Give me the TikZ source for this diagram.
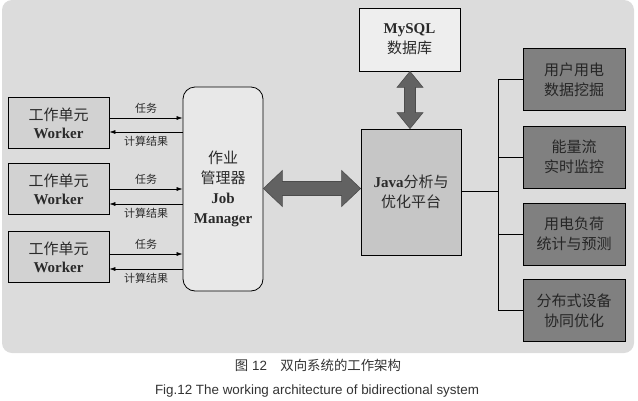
\documentclass[tikz,border=0pt]{standalone}
\usepackage{fontspec}
\setmainfont{Liberation Serif}
\setsansfont{Liberation Sans}
\newfontfamily\cjk{Noto Sans CJK SC}
\usetikzlibrary{arrows.meta,calc}
\definecolor{bgc}{HTML}{DCDCDC}
\definecolor{wkc}{HTML}{D2D2D2}
\definecolor{jmc}{HTML}{E8E8E8}
\definecolor{dbc}{HTML}{EEEEEE}
\definecolor{jvc}{HTML}{C6C6C6}
\definecolor{rtc}{HTML}{808080}
\definecolor{arc}{HTML}{626262}
\definecolor{txc}{HTML}{2A2A2A}
\tikzset{
  box/.style={draw=black, line width=0.8pt, inner sep=0pt, align=center, text=txc, font=\fontsize{15}{20}\selectfont},
  workerbox/.style={box, fill=wkc, minimum width=101pt, minimum height=51pt, font=\fontsize{15}{18}\selectfont},
  rightbox/.style={box, fill=rtc, minimum width=102pt, minimum height=62pt, text=black!85},
  small/.style={font=\cjk\fontsize{11}{13}\selectfont, text=txc},
  thin arrow/.style={-{Latex[length=6pt,width=4pt]}, line width=0.6pt},
  bigarrow/.style={fill=arc, draw=black!70, line width=0.6pt},
  caption/.style={font=\sffamily\fontsize{13.4}{15}\selectfont, text=black!80, inner sep=0pt},
}
\begin{document}
\begin{tikzpicture}[x=1pt,y=-1pt]
\useasboundingbox (0,0) rectangle (638,400);
% background
\fill[bgc, rounded corners=10pt] (2,0) rectangle (634,353);
% workers
\node[workerbox] (w1) at (58.5,123) {{\cjk 工作单元}\\\textbf{Worker}};
\node[workerbox] (w2) at (58.5,189) {{\cjk 工作单元}\\\textbf{Worker}};
\node[workerbox] (w3) at (58.5,257) {{\cjk 工作单元}\\\textbf{Worker}};
% job manager
\node[box, fill=jmc, rounded corners=12pt, minimum width=80pt, minimum height=204pt] (jm) at (223,189) {{\cjk 作业}\\{\cjk 管理器}\\\textbf{Job}\\\textbf{Manager}};
% mysql
\node[box, fill=dbc, minimum width=101pt, minimum height=63pt] (db) at (409.5,39.5) {\textbf{MySQL}\\{\cjk 数据库}};
% java
\node[box, fill=jvc, minimum width=100pt, minimum height=126pt] (jv) at (411,192) {\textbf{Java}{\cjk 分析与}\\{\cjk 优化平台}};
% right boxes
\node[rightbox] (r1) at (574,79.5) {{\cjk 用户用电}\\{\cjk 数据挖掘}};
\node[rightbox] (r2) at (574,157) {{\cjk 能量流}\\{\cjk 实时监控}};
\node[rightbox] (r3) at (574,234) {{\cjk 用电负荷}\\{\cjk 统计与预测}};
\node[rightbox] (r4) at (574,310.5) {{\cjk 分布式设备}\\{\cjk 协同优化}};
% worker arrows
\foreach \w/\ya/\yb in {w1/118/132, w2/189/204, w3/254/269}{
  \draw[thin arrow] (\w.east |- 0,\ya) -- (jm.west |- 0,\ya) node[pos=0.5, above=1pt, small] {任务};
  \draw[thin arrow] (jm.west |- 0,\yb) -- (\w.east |- 0,\yb) node[pos=0.5, below=1pt, small] {计算结果};
}
% big horizontal double arrow
\path let \p1=(jm.east), \p2=(jv.west) in
  coordinate (ha) at (\x1, 188.5) coordinate (hb) at (\x2, 188.5);
\draw[bigarrow] (ha) -- ($(ha)+(19,-18)$) -- ($(ha)+(19,-7)$) -- ($(hb)+(-19,-7)$) -- ($(hb)+(-19,-18)$) -- (hb)
  -- ($(hb)+(-19,18)$) -- ($(hb)+(-19,7)$) -- ($(ha)+(19,7)$) -- ($(ha)+(19,18)$) -- cycle;
% vertical double arrow
\path let \p1=(db.south), \p2=(jv.north) in
  coordinate (va) at (410, \y1) coordinate (vb) at (410, \y2);
\draw[bigarrow] (va) -- ($(va)+(13,16)$) -- ($(va)+(5.5,16)$) -- ($(vb)+(5.5,-16)$) -- ($(vb)+(13,-16)$) -- (vb)
  -- ($(vb)+(-13,-16)$) -- ($(vb)+(-5.5,-16)$) -- ($(va)+(-5.5,16)$) -- ($(va)+(-13,16)$) -- cycle;
% tree connector
\coordinate (tj) at (498,191);
\draw[line width=0.8pt] (jv.east |- tj) -- (tj);
\draw[line width=0.8pt] (r1.west -| tj) -- (r4.west -| tj);
\foreach \r in {r1,r2,r3,r4}{ \draw[line width=0.8pt] (\r.west -| tj) -- (\r.west); }
% captions
\node[caption] (c1) at (318,365) {{\cjk 图} 12\quad{\cjk 双向系统的工作架构}};
\node[caption] (c2) at (317,391) {Fig.12 The working architecture of bidirectional system};
\end{tikzpicture}
\end{document}
